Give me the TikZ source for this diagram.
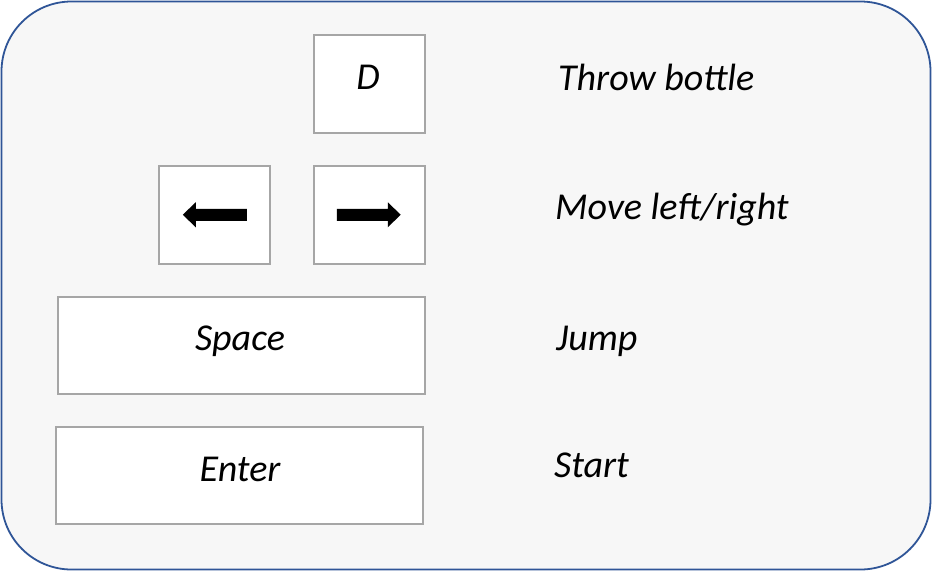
\documentclass[tikz,border=0pt]{standalone}
\usepackage{fontspec}
\setmainfont{Carlito}
\usetikzlibrary{calc}
\begin{document}
\begin{tikzpicture}[x=1pt,y=-1pt,
  key/.style={draw=keygray,fill=white,line width=1.5pt,inner sep=0pt,anchor=north west},
  lbl/.style={font=\fontsize{38}{44}\selectfont\itshape,anchor=base west,inner sep=0pt},
  ktxt/.style={font=\fontsize{38}{44}\selectfont\itshape,anchor=base,inner sep=0pt},
  arr/.style={fill=black,draw=none}]
\definecolor{keygray}{HTML}{A6A6A6}
\definecolor{frameblue}{HTML}{2F5597}
\definecolor{bg}{HTML}{F7F7F7}
\useasboundingbox (0,0) rectangle (932,571);
\draw[draw=frameblue,fill=bg,line width=1.8pt,rounded corners=70pt] (1.5,1.5) rectangle (930.5,569.5);
\node[key,minimum width=111pt,minimum height=98pt] (d) at (313,34) {};
\node[key,minimum width=111pt,minimum height=98pt] (left) at (158,165) {};
\node[key,minimum width=111pt,minimum height=98pt] (right) at (313,165) {};
\node[key,minimum width=367pt,minimum height=97pt] (space) at (57,296) {};
\node[key,minimum width=367pt,minimum height=97pt] (enter) at (55,426) {};
\node[ktxt] (dt) at (368,89) {D};
\node[ktxt] (st) at (240,350) {Space};
\node[ktxt] (et) at (240,481) {Enter};
% arrows
\fill[arr] ($(left.center)+(32.5,-6)$) -- ++(-51,0) -- ++(0,-6.5) -- ++(-13,12.5) -- ++(13,12.5) -- ++(0,-6.5) -- ++(51,0) -- cycle;
\fill[arr] ($(right.center)+(-32.5,-6)$) -- ++(51,0) -- ++(0,-6.5) -- ++(13,12.5) -- ++(-13,12.5) -- ++(0,-6.5) -- ++(-51,0) -- cycle;
\node[lbl] (t1) at (558,90) {Throw bottle};
\node[lbl] (t2) at (555,219) {Move left/right};
\node[lbl] (t3) at (556,350) {Jump};
\node[lbl] (t4) at (554,477) {Start};
\end{tikzpicture}
\end{document}
